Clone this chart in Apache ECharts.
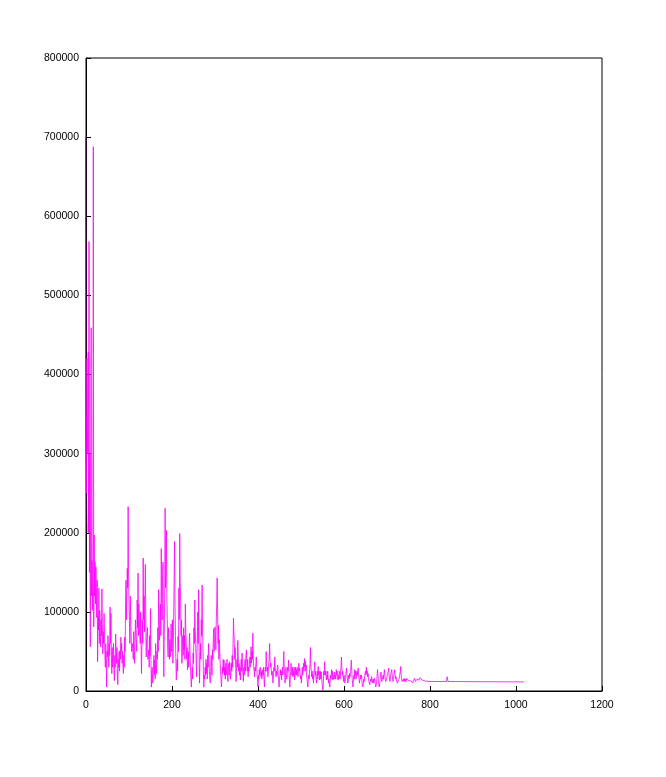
<!DOCTYPE html>
<html>
<head>
<meta charset="utf-8">
<script src="https://cdn.jsdelivr.net/npm/echarts@6/dist/echarts.min.js"></script>
<style>
html,body{margin:0;padding:0;background:#fff;}
#chart{width:666px;height:777px;}
</style>
</head>
<body>
<div id="chart"></div>
<script>
// [x, value in thousands]
var magentaPoints = [[0,350],[1,250],[2,420],[3,300],[4,346],[5,428],[6,200],[7,568],[8,150],[9,300],[10,56],[11,260],[12,459],[13,120],[14,165],[15,102],[16,195],[17,688],[18,81],[19,197],
[20,120],[21,163],[22,110],[23,157],[24,130],[25,93],[26,140],[27,37],[28,95],[29,77],[30,130],[31,60],[32,102],[33,80],[34,56],[35,90],[36,70],[37,129],[38,85],[39,47],[40,75],[41,60],[42,98],[43,70],[44,45],[45,30],[46,60],[47,40],[48,5],[49,50],[50,43],[51,70],[52,55],[53,30],[54,60],[55,45],[56,106],[57,60],[58,98],[59,45],[60,22],[61,55],[62,30],[63,39],[64,60],[65,25],[66,13],[67,45],[68,30],[69,72],[70,50],[71,35],[72,55],[73,20],[74,8],[75,40],[76,30],[77,50],[78,25],[79,51],[80,40],[81,68],[82,50],[83,60],[84,35],[85,50],[86,30],[87,22],[88,45],[89,30],[90,68],[91,50],[92,110],[93,140],[94,90],[95,120],[96,155],[97,130],[98,233],[99,150],[100,110],
[101,89],[102,60],[103,120],[104,90],[106,50],[108,60],[110,40],[111,75],[113,35],[115,90],[116,70],[118,50],[119,115],[120,80],[121,149],[122,70],[123,110],[124,90],[126,60],[127,100],[129,22],[130,55],[131,90],[132,60],[133,168],[134,90],[135,120],[136,75],[138,160],[139,90],[140,43],[141,65],[143,80],[144,40],[146,52],[147,30],[148,70],[149,45],[150,104],[151,40],[152,5],[153,25],[154,30],[155,10],[156,14],[157,35],[158,45],[159,20],[160,39],[161,15],[162,60],[163,35],[164,22],[165,50],[166,40],[167,80],[168,50],[169,128],[170,85],[171,64],[172,100],[173,110],[174,70],[175,180],[176,120],[177,90],[178,140],[179,163],[180,60],[181,18],[182,70],[183,120],[184,231],[185,130],[186,150],[187,203],[188,120],[189,90],[190,55],[191,43],[192,80],[193,70],[194,40],[195,65],[196,43],[197,60],[198,85],[199,50],[200,60],
[201,90],[202,35],[203,55],[204,100],[205,140],[206,189],[207,110],[208,70],[209,40],[210,14],[211,30],[212,40],[213,25],[214,69],[215,50],[216,130],[217,90],[218,199],[219,140],[220,115],[221,70],[222,90],[223,35],[224,55],[225,70],[226,45],[227,80],[228,52],[229,70],[230,40],[231,110],[232,80],[233,60],[234,40],[235,55],[236,27],[237,40],[238,50],[239,30],[240,60],[241,73],[242,45],[243,30],[244,15],[245,5],[246,20],[247,30],[248,15],[249,48],[250,35],[251,80],[252,60],[253,115],[254,80],[255,60],[256,40],[257,18],[258,45],[259,70],[260,100],[261,60],[262,128],[263,50],[264,10],[265,35],[266,60],[267,40],[268,90],[269,70],[270,134],[271,80],[272,56],[273,25],[274,5],[275,20],[276,15],[277,30],[278,20],[279,40],[280,22],[281,35],[282,15],[283,45],[284,30],[285,60],[286,43],[287,25],[288,15],[289,10],[290,25],[291,45],[292,35],[293,20],[294,52],[295,40],[296,65],[297,79],[298,50],[299,60],[300,81],
[301,70],[302,52],[303,90],[304,110],[305,143],[306,100],[307,60],[308,83],[309,40],[310,65],[311,52],[312,35],[313,25],[314,15],[315,5],[316,15],[317,30],[318,22],[319,40],[320,25],[321,39],[322,20],[323,30],[324,15],[325,35],[326,20],[327,24],[328,40],[329,20],[330,12],[331,25],[332,35],[333,20],[334,37],[335,30],[336,15],[337,22],[338,35],[339,25],[340,45],[341,30],[342,60],[343,92],[344,75],[345,60],[346,40],[347,55],[348,30],[349,12],[350,25],[351,40],[352,30],[353,64],[354,45],[355,25],[356,35],[357,20],[358,30],[359,14],[360,30],[361,40],[362,25],[363,48],[364,30],[365,20],[366,12],[367,30],[368,20],[369,35],[370,40],[371,25],[372,45],[373,52],[374,35],[375,25],[376,40],[377,18],[378,30],[379,25],[380,35],[381,43],[382,30],[383,45],[384,56],[385,35],[386,50],[387,40],[388,73],[389,45],[390,30],[391,25],[392,18],[393,30],[394,25],[395,35],[396,43],[397,30],[398,20],[399,15],[400,5],
[401,20],[402,15],[403,27],[404,20],[405,30],[406,25],[407,18],[408,25],[409,15],[410,20],[411,27],[412,20],[413,30],[414,15],[415,5],[416,20],[417,30],[418,25],[419,50],[420,35],[421,25],[422,30],[423,18],[424,25],[425,35],[426,40],[427,60],[428,40],[429,30],[430,35],[431,27],[432,20],[433,25],[434,15],[435,10],[436,20],[437,30],[438,25],[439,43],[440,30],[441,25],[442,18],[443,25],[444,20],[445,30],[446,33],[447,20],[448,15],[449,5],[450,15],[451,20],[452,27],[453,20],[454,25],[455,14],[456,25],[457,30],[458,20],[459,35],[460,50],[461,30],[462,20],[463,10],[464,20],[465,30],[466,20],[467,15],[468,22],[469,30],[470,25],[471,39],[472,25],[473,15],[474,5],[475,15],[476,25],[477,35],[478,25],[479,20],[480,30],[481,18],[482,25],[483,20],[484,30],[485,14],[486,20],[487,30],[488,20],[489,27],[490,20],[491,30],[492,25],[493,18],[494,25],[495,35],[496,25],[497,29],[498,20],[499,15],[500,20],
[501,10],[502,20],[503,30],[504,20],[505,27],[506,35],[507,25],[508,41],[509,30],[510,38],[511,25],[512,33],[513,20],[514,15],[515,10],[516,5],[517,15],[518,20],[519,15],[520,27],[521,35],[522,55],[523,30],[524,25],[525,18],[526,25],[527,15],[528,20],[529,10],[530,20],[531,30],[532,37],[533,20],[534,25],[535,15],[536,10],[537,20],[538,25],[539,15],[540,31],[541,20],[542,25],[543,14],[544,20],[545,25],[546,15],[547,24],[548,18],[549,10],[550,5],[551,1],[552,10],[553,25],[554,20],[555,37],[556,25],[557,20],[558,25],[559,14],[560,20],[561,15],[562,25],[563,18],[564,10],[565,15],[566,10],[567,5],[568,15],[569,20],[570,15],[571,27],[572,20],[573,25],[574,14],[575,20],[576,15],[577,20],[578,24],[579,15],[580,20],[581,15],[582,27],[583,20],[584,25],[585,18],[586,14],[587,20],[588,15],[589,25],[590,22],[591,15],[592,25],[593,30],[594,43],[595,30],[596,20],[597,25],[598,18],[599,12],[600,20],
[601,15],[602,10],[603,15],[604,20],[605,25],[606,29],[607,20],[608,15],[609,10],[610,15],[611,20],[612,15],[613,22],[614,18],[615,25],[616,30],[617,39],[618,25],[619,15],[620,10],[621,5],[622,15],[623,20],[624,15],[625,27],[626,20],[627,25],[628,15],[629,18],[630,25],[631,20],[632,25],[633,29],[634,20],[635,15],[636,10],[637,15],[638,20],[639,15],[640,14],[641,20],[642,10],[643,8],[644,5],[645,10],[646,15],[647,12],[648,18],[649,22],[650,25],[651,20],[652,30],[653,22],[654,25],[655,18],[656,22],[657,15],[658,12],[659,10],[660,8],[661,12],[662,15],[663,12],[664,18],[665,15],[666,10],[667,12],[668,15],[669,10],[670,12],[671,16],[672,12],[673,8],[674,5],[675,3],[676,12],[677,20],[678,27],[679,20],[680,12],[681,8],[682,5],[683,10],[684,15],[685,20],[686,24],[687,18],[688,12],[689,15],[690,16],[691,20],[692,15],[693,22],[694,27],[695,20],[696,15],[697,12],[698,10],[699,15],[700,18],
[701,22],[702,20],[703,25],[704,29],[705,20],[706,15],[707,12],[708,18],[709,22],[710,20],[711,27],[712,20],[713,18],[714,12],[715,16],[716,20],[717,22],[718,27],[719,20],[720,15],[721,18],[722,14],[723,12],[724,10],[725,12],[726,8],[727,12],[728,15],[729,18],[730,20],[731,25],[732,31],[733,20],[734,15],[735,12],[736,10],[737,12],[738,15],[739,12],[740,16],[741,14],[742,12],[743,15],[744,12],[745,14],[746,16],[747,14],[748,18],[749,14],[750,13],[751,15],[752,12],[753,14],[754,15],[755,13],[756,14],[757,12],[758,11],[759,12],[760,10],[761,13],[762,15],[763,14],[764,16],[765,14],[766,12],[767,13],[768,12],[769,14],[770,15],[771,16],[772,14],[773,13],[774,15],[775,14],[776,15],[777,17],[778,16],[779,18],[780,15],[781,14],[782,13],[783,13],[790,12.5],[800,12],[838,12],[840,18],[842,12],[900,11.8],[1019,11.5]];
var darkPoints = [[0,700],[0.6,330],[1.2,250],[2,200]];
var xTicks = [0,200,400,600,800,1000,1200];
var yTicks = [0,100000,200000,300000,400000,500000,600000,700000,800000];

function toUnits(pts){
  return pts.map(function(p){ return [p[0], p[1]*1000]; });
}

var chart = echarts.init(document.getElementById('chart'), null, {renderer:'canvas'});
var labelFont = {fontFamily:'Liberation Sans, Arial, sans-serif', fontSize:10.5, color:'#000',
  formatter:function(v){ return String(v); }};
chart.setOption({
  animation:false,
  backgroundColor:'#fff',
  grid:{left:86, right:64, top:58, bottom:86, show:true, borderColor:'#000', borderWidth:1, backgroundColor:'transparent'},
  xAxis:{
    type:'value', min:xTicks[0], max:xTicks[xTicks.length-1], interval:xTicks[1]-xTicks[0],
    axisLine:{show:true, onZero:false, lineStyle:{color:'#000', width:1}},
    axisTick:{show:true, inside:true, length:5, lineStyle:{color:'#000'}},
    splitLine:{show:false},
    axisLabel:Object.assign({margin:9}, labelFont)
  },
  yAxis:{
    type:'value', min:yTicks[0], max:yTicks[yTicks.length-1], interval:yTicks[1]-yTicks[0],
    axisLine:{show:true, onZero:false, lineStyle:{color:'#000', width:1}},
    axisTick:{show:true, inside:true, length:5, lineStyle:{color:'#000'}},
    splitLine:{show:false},
    axisLabel:Object.assign({margin:7}, labelFont)
  },
  series:[
    {type:'line', data:toUnits(darkPoints), symbol:'none', lineStyle:{color:'#4a004a', width:1}, z:1},
    {type:'line', data:toUnits(magentaPoints), symbol:'none', lineStyle:{color:'#ff00ff', width:1, opacity:0.8}, z:2}
  ]
});
</script>
</body>
</html>
